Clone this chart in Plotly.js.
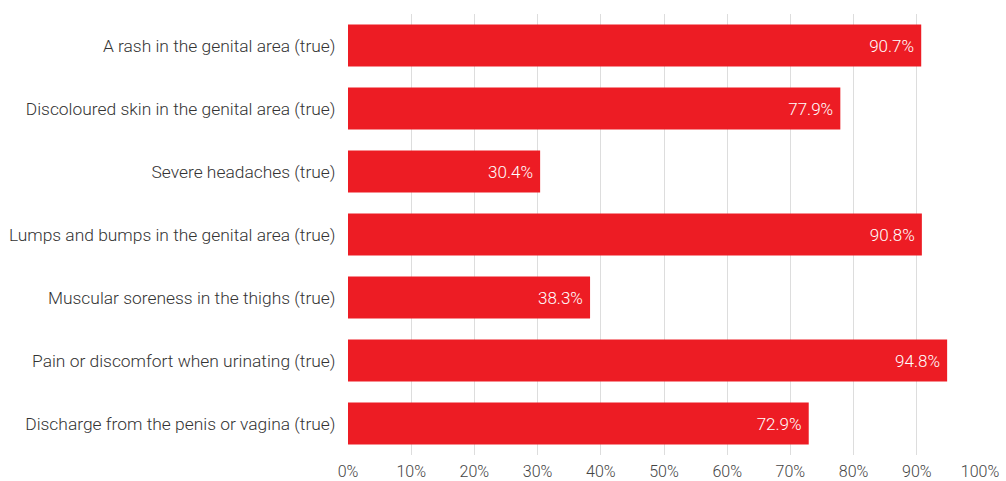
<!DOCTYPE html>
<html>
<head>
<meta charset="utf-8">
<script src="https://cdn.plot.ly/plotly-3.0.1.min.js"></script>
<style>html,body{margin:0;padding:0;background:#fff;}#chart{width:1006px;height:481px;}</style>
</head>
<body>
<div id="chart"></div>
<script>
const categories = [
  "A rash in the genital area (true)",
  "Discoloured skin in the genital area (true)",
  "Severe headaches (true)",
  "Lumps and bumps in the genital area (true)",
  "Muscular soreness in the thighs (true)",
  "Pain or discomfort when urinating (true)",
  "Discharge from the penis or vagina (true)"
];
const values = [90.7, 77.9, 30.4, 90.8, 38.3, 94.8, 72.9];
const tickVals = [0,10,20,30,40,50,60,70,80,90,100];
const tickText = tickVals.map(v => v + "%");

const trace = {
  type: "bar",
  orientation: "h",
  y: categories,
  x: values,
  width: 0.667,
  marker: {color: "#ED1C24", line: {width: 0}},
  text: values.map(v => v.toFixed(1) + "% "),
  textposition: "inside",
  insidetextanchor: "end",
  textfont: {family: "Roboto", size: 17, color: "#ffffff", weight: 300},
  hoverinfo: "none",
  cliponaxis: false
};

const layout = {
  width: 1006,
  height: 481,
  margin: {l: 348, r: 26, t: 14, b: 26},
  paper_bgcolor: "#ffffff",
  plot_bgcolor: "#ffffff",
  showlegend: false,
  bargap: 0.333,
  font: {family: "Roboto", size: 17, color: "#333333", weight: 300},
  xaxis: {
    range: [0, 100],
    tickvals: tickVals,
    ticktext: tickText,
    showgrid: true,
    gridcolor: "#dddddd",
    gridwidth: 1,
    zeroline: false,
    showline: false,
    ticks: "outside",
    ticklen: 2,
    tickcolor: "rgba(0,0,0,0)",
    tickfont: {family: "Roboto", size: 16, color: "#444444", weight: 300},
    fixedrange: true
  },
  yaxis: {
    autorange: "reversed",
    showgrid: false,
    zeroline: false,
    showline: false,
    ticks: "outside",
    ticklen: 8,
    tickcolor: "rgba(0,0,0,0)",
    tickfont: {family: "Roboto", size: 17.4, color: "#333333", weight: 300},
    fixedrange: true
  }
};

Plotly.newPlot("chart", [trace], layout, {displayModeBar: false, staticPlot: true});
</script>
</body>
</html>
